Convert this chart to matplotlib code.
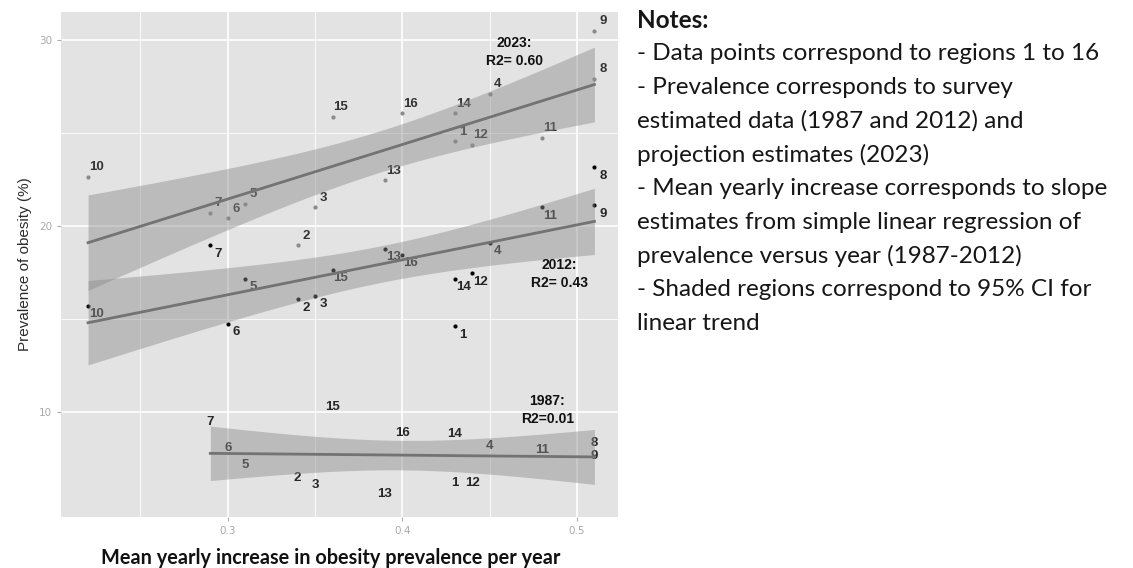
import numpy as np
import matplotlib
matplotlib.use("Agg")
import matplotlib.pyplot as plt

# region ids and mean yearly increase (x)
regions = [str(i) for i in range(1, 17)]
incr = [0.43, 0.34, 0.35, 0.45, 0.31, 0.30, 0.29, 0.51, 0.51, 0.22, 0.48, 0.44, 0.39, 0.43, 0.36, 0.40]

# prevalence of obesity (%) by year, region 10 has no 1987 survey value
prev_1987 = [6.2, 6.45, 6.05, 8.15, 7.15, 8.05, 9.45, 8.35, 7.65, np.nan, 7.95, 6.2, 5.6, 8.8, 10.25, 8.85]
prev_2012 = [14.6, 16.05, 16.25, 19.1, 17.15, 14.75, 18.95, 23.15, 21.1, 15.7, 21.0, 17.45, 18.75, 17.15, 17.65, 18.45]
prev_2023 = [24.55, 18.95, 21.0, 27.1, 21.2, 20.4, 20.7, 27.9, 30.5, 22.65, 24.75, 24.35, 22.45, 26.05, 25.85, 26.05]

r2_text = {"1987": "1987:\nR2=0.01", "2012": "2012:\nR2= 0.43", "2023": "2023:\nR2= 0.60"}
r2_pos = {"1987": (0.483, 10.1), "2012": (0.49, 17.4), "2023": (0.464, 29.35)}

notes = ["Notes:",
         "- Data points correspond to regions 1 to 16",
         "- Prevalence corresponds to survey",
         "estimated data (1987 and 2012) and",
         "projection estimates (2023)",
         "- Mean yearly increase corresponds to slope",
         "estimates from simple linear regression of",
         "prevalence versus year (1987-2012)",
         "- Shaded regions correspond to 95% CI for",
         "linear trend"]

# t quantiles (0.975) for n-2 degrees of freedom
t975 = {13: 2.160, 14: 2.145}


def fit_band(x, y):
    x = np.asarray(x, float)
    y = np.asarray(y, float)
    ok = ~np.isnan(y)
    x, y = x[ok], y[ok]
    n = len(x)
    b, a = np.polyfit(x, y, 1)
    resid = y - (a + b * x)
    s = np.sqrt(np.sum(resid ** 2) / (n - 2))
    xs = np.linspace(x.min(), x.max(), 100)
    sxx = np.sum((x - x.mean()) ** 2)
    se = s * np.sqrt(1.0 / n + (xs - x.mean()) ** 2 / sxx)
    fit = a + b * xs
    t = t975[n - 2]
    return xs, fit, fit - t * se, fit + t * se


fig = plt.figure(figsize=(11.33, 5.68), dpi=100)
ax = fig.add_axes([61 / 1133, 51 / 568, 557 / 1133, 505 / 568])
ax.set_facecolor("#e3e3e3")
ax.set_xlim(0.2045, 0.5235)
ax.set_ylim(4.35, 31.5)

for v in [0.25, 0.35, 0.45]:
    ax.axvline(v, color="white", lw=0.6, zorder=0)
for v in [15, 25]:
    ax.axhline(v, color="white", lw=0.6, zorder=0)
for v in [0.3, 0.4, 0.5]:
    ax.axvline(v, color="white", lw=1.2, zorder=0)
for v in [10, 20, 30]:
    ax.axhline(v, color="white", lw=1.2, zorder=0)

lab_font = dict(family="Liberation Sans", fontsize=9.5, fontweight="bold")

# 1987: labels only
for r, x, y in zip(regions, incr, prev_1987):
    if np.isnan(y):
        continue
    ax.text(x, y, r, ha="center", va="center", color="#262626", zorder=2, **lab_font)

# 2012: black dots, labels down-right
ax.scatter(incr, prev_2012, s=9, color="black", zorder=2, linewidths=0)
for r, x, y in zip(regions, incr, prev_2012):
    ax.annotate(r, (x, y), xytext=(6, -6), textcoords="offset points",
                ha="center", va="center", color="#262626", zorder=2, **lab_font)

# 2023: gray dots, labels up-right
ax.scatter(incr, prev_2023, s=9, color="#8a8a8a", zorder=2, linewidths=0)
for r, x, y in zip(regions, incr, prev_2023):
    ax.annotate(r, (x, y), xytext=(6, 7), textcoords="offset points",
                ha="center", va="center", color="#333333", zorder=2, **lab_font)

for prev in (prev_1987, prev_2012, prev_2023):
    xs, fit, lo, hi = fit_band(incr, prev)
    ax.fill_between(xs, lo, hi, color="#8c8c8c", alpha=0.45, lw=0, zorder=3)
    ax.plot(xs, fit, color="#737373", lw=2, zorder=4)

for k in r2_text:
    ax.text(*r2_pos[k], r2_text[k], ha="center", va="center", color="#111111",
            family="Liberation Sans", fontsize=10, fontweight="bold",
            linespacing=1.4, zorder=5)

ax.set_xticks([0.3, 0.4, 0.5])
ax.set_xticklabels(["0.3", "0.4", "0.5"])
ax.set_yticks([10, 20, 30])
ax.set_yticklabels(["10", "20", "30"])
ax.tick_params(colors="#aaaaaa", labelsize=7.5, length=3, width=0.8, labelcolor="#aaaaaa")
for sp in ax.spines.values():
    sp.set_visible(False)

ax.set_ylabel("Prevalence of obesity (%)", family="Liberation Sans", fontsize=11,
              color="#2b2b2b", labelpad=5)
ax.set_xlabel("Mean yearly increase in obesity prevalence per year", family="Lato",
              fontsize=14.3, fontweight="bold", color="#111111", labelpad=6)
ax.xaxis.set_label_coords(0.485, -0.062)

for i, line in enumerate(notes):
    y = 1 - (20 + 33.7 * i) / 568
    fig.text(637 / 1133, y, line, ha="left", va="center", family="Lato",
             fontsize=17.5, color="#161616",
             fontweight="bold" if i == 0 else "normal")

fig.savefig("out.png", dpi=100)
